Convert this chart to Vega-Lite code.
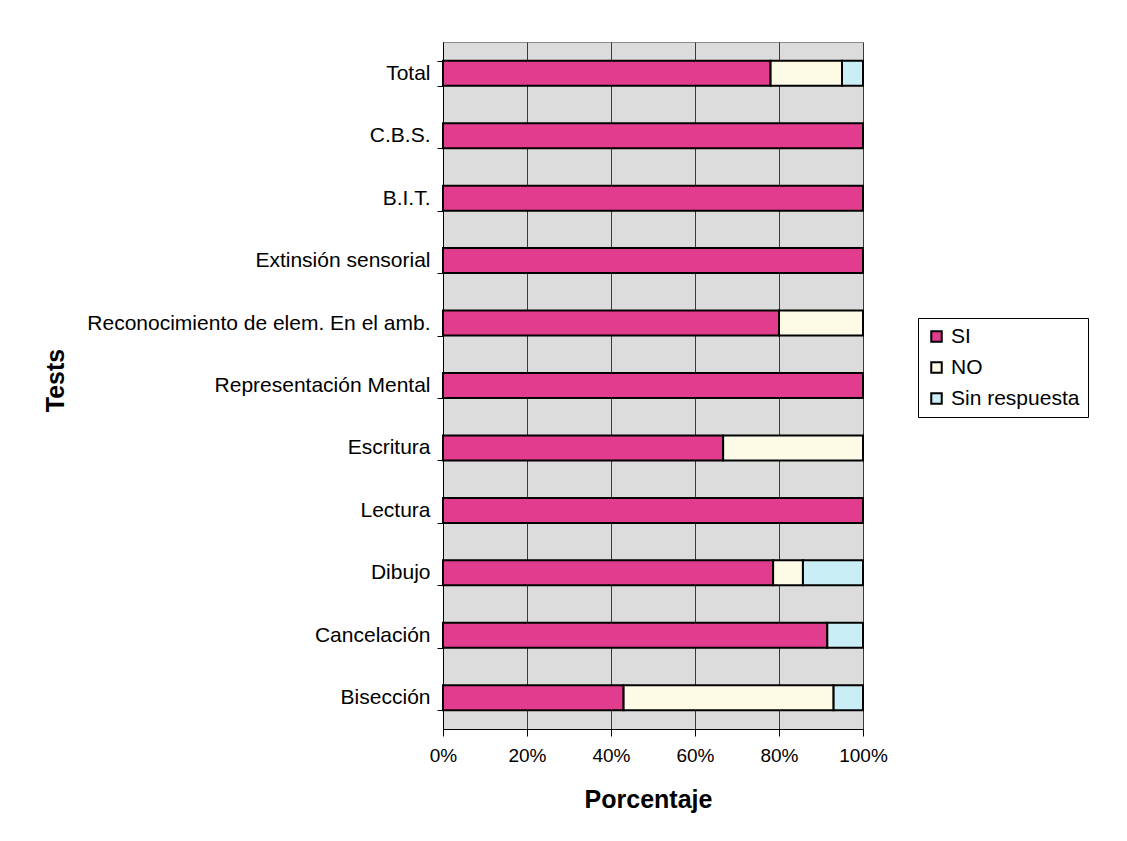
{
  "$schema": "https://vega.github.io/schema/vega-lite/v6.json",
  "width": 420,
  "height": 687,
  "autosize": {"type": "none"},
  "padding": {"left": 443, "top": 42, "right": 264, "bottom": 112},
  "background": "white",
  "data": {
    "values": [
      {"test": "Total", "resp": "SI", "k": 1, "value": 78},
      {"test": "Total", "resp": "NO", "k": 2, "value": 17},
      {"test": "Total", "resp": "Sin respuesta", "k": 3, "value": 5},
      {"test": "C.B.S.", "resp": "SI", "k": 1, "value": 100},
      {"test": "B.I.T.", "resp": "SI", "k": 1, "value": 100},
      {"test": "Extinsión sensorial", "resp": "SI", "k": 1, "value": 100},
      {"test": "Reconocimiento de elem. En el amb.", "resp": "SI", "k": 1, "value": 80},
      {"test": "Reconocimiento de elem. En el amb.", "resp": "NO", "k": 2, "value": 20},
      {"test": "Representación Mental", "resp": "SI", "k": 1, "value": 100},
      {"test": "Escritura", "resp": "SI", "k": 1, "value": 66.7},
      {"test": "Escritura", "resp": "NO", "k": 2, "value": 33.3},
      {"test": "Lectura", "resp": "SI", "k": 1, "value": 100},
      {"test": "Dibujo", "resp": "SI", "k": 1, "value": 78.6},
      {"test": "Dibujo", "resp": "NO", "k": 2, "value": 7.1},
      {"test": "Dibujo", "resp": "Sin respuesta", "k": 3, "value": 14.3},
      {"test": "Cancelación", "resp": "SI", "k": 1, "value": 91.5},
      {"test": "Cancelación", "resp": "Sin respuesta", "k": 3, "value": 8.5},
      {"test": "Bisección", "resp": "SI", "k": 1, "value": 43},
      {"test": "Bisección", "resp": "NO", "k": 2, "value": 50},
      {"test": "Bisección", "resp": "Sin respuesta", "k": 3, "value": 7}
    ]
  },
  "mark": {"type": "bar", "stroke": "black", "strokeWidth": 2},
  "encoding": {
    "y": {
      "field": "test",
      "type": "nominal",
      "sort": ["Total", "C.B.S.", "B.I.T.", "Extinsión sensorial", "Reconocimiento de elem. En el amb.", "Representación Mental", "Escritura", "Lectura", "Dibujo", "Cancelación", "Bisección"],
      "scale": {"paddingInner": 0.6, "paddingOuter": 0.3},
      "axis": {
        "grid": false,
        "tickBand": "extent",
        "domainColor": "black",
        "tickColor": "black",
        "tickSize": 6,
        "labelFontSize": 21,
        "labelColor": "black",
        "labelPadding": 7,
        "labelLimit": 0,
        "title": "Tests",
        "titleFontSize": 25,
        "titleFontWeight": "bold",
        "titleColor": "black",
        "titleAngle": -90,
        "titleX": -388,
        "titleY": 338,
        "titleAlign": "center",
        "titleBaseline": "middle"
      }
    },
    "x": {
      "field": "value",
      "type": "quantitative",
      "stack": "zero",
      "scale": {"domain": [0, 100], "nice": false},
      "axis": {
        "labelExpr": "datum.value + '%'",
        "values": [0, 20, 40, 60, 80, 100],
        "labelFlush": false,
        "grid": true,
        "gridColor": "#3a3a3a",
        "gridWidth": 1,
        "domainColor": "black",
        "tickColor": "black",
        "tickSize": 7,
        "labelFontSize": 19,
        "labelColor": "black",
        "labelPadding": 10,
        "title": "Porcentaje",
        "titleFontSize": 25,
        "titleFontWeight": "bold",
        "titleColor": "black",
        "titleY": 70,
        "titleX": 205,
        "titleBaseline": "middle"
      }
    },
    "order": {"field": "k", "type": "quantitative", "sort": "ascending"},
    "color": {
      "field": "resp",
      "type": "nominal",
      "sort": ["SI", "NO", "Sin respuesta"],
      "scale": {"domain": ["SI", "NO", "Sin respuesta"], "range": ["#e23c8f", "#fdfbe6", "#c9eef5"]},
      "legend": {
        "orient": "none",
        "legendX": 475,
        "legendY": 276,
        "title": null,
        "fillColor": "white",
        "strokeColor": "black",
        "padding": 8,
        "labelFontSize": 21,
        "labelColor": "black",
        "labelOffset": 4,
        "symbolType": "square",
        "symbolSize": 110,
        "symbolStrokeColor": "black",
        "symbolStrokeWidth": 2,
        "rowPadding": 9
      }
    }
  },
  "config": {
    "font": "Liberation Sans",
    "view": {"fill": "#dcdcdc", "stroke": "#8a8a8a"}
  }
}
